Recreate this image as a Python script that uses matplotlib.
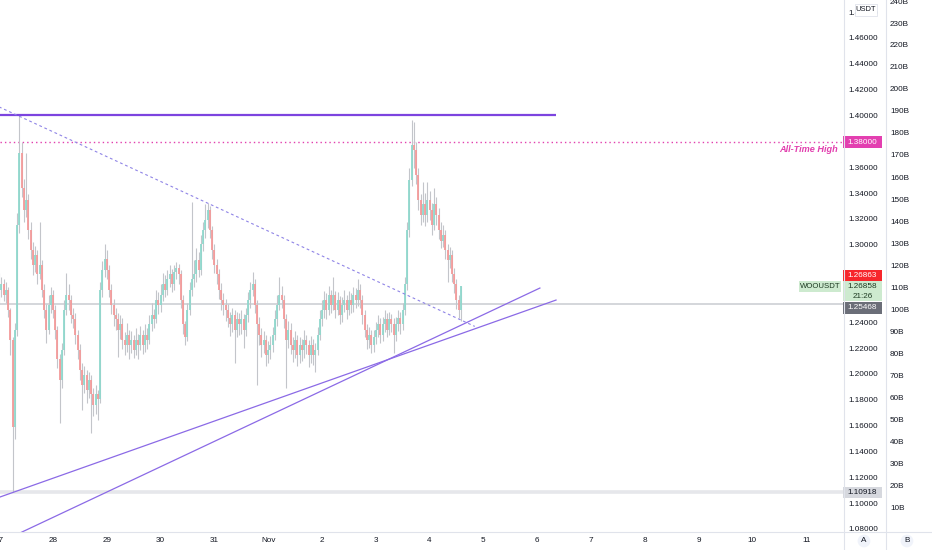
import numpy as np
import matplotlib
matplotlib.use("Agg")
import matplotlib.pyplot as plt
from matplotlib.transforms import blended_transform_factory as blend
from matplotlib.patches import Rectangle
from matplotlib.lines import Line2D

# WOOUSDT, 1h candles starting Oct 27 00:00 (day 0)
OPEN0 = 1.262
CLOSE = [
    # Oct 27
    1.266, 1.270, 1.262, 1.266, 1.250, 1.227, 1.160, 1.235, 1.316, 1.372, 1.345, 1.328,
    1.335, 1.312, 1.297, 1.285, 1.293, 1.278, 1.285, 1.266, 1.250, 1.235, 1.254, 1.262,
    # Oct 28
    1.250, 1.235, 1.212, 1.196, 1.219, 1.250, 1.262, 1.258, 1.246, 1.243, 1.231, 1.219,
    1.204, 1.192, 1.200, 1.188, 1.196, 1.185, 1.177, 1.185, 1.181, 1.266, 1.281, 1.290,
    # Oct 29
    1.281, 1.266, 1.254, 1.246, 1.243, 1.235, 1.239, 1.227, 1.223, 1.231, 1.223, 1.227,
    1.219, 1.227, 1.223, 1.231, 1.223, 1.231, 1.227, 1.239, 1.246, 1.243, 1.258, 1.254,
    # Oct 30
    1.262, 1.270, 1.266, 1.274, 1.278, 1.270, 1.280, 1.283, 1.278, 1.258, 1.239, 1.229,
    1.250, 1.266, 1.274, 1.278, 1.289, 1.281, 1.301, 1.312, 1.320, 1.328, 1.312, 1.297,
    # Oct 31
    1.285, 1.278, 1.266, 1.258, 1.254, 1.250, 1.244, 1.239, 1.246, 1.235, 1.243, 1.239,
    1.243, 1.235, 1.246, 1.258, 1.266, 1.270, 1.254, 1.239, 1.231, 1.223, 1.227, 1.215,
    # Nov 1
    1.219, 1.223, 1.231, 1.243, 1.254, 1.262, 1.258, 1.243, 1.227, 1.235, 1.223, 1.219,
    1.227, 1.215, 1.223, 1.219, 1.227, 1.223, 1.215, 1.223, 1.215, 1.219, 1.231, 1.243,
    # Nov 2
    1.250, 1.258, 1.250, 1.262, 1.254, 1.262, 1.250, 1.258, 1.246, 1.254, 1.258, 1.250,
    1.258, 1.254, 1.262, 1.258, 1.266, 1.258, 1.246, 1.235, 1.227, 1.231, 1.223, 1.229,
    # Nov 3
    1.235, 1.239, 1.231, 1.239, 1.243, 1.235, 1.243, 1.239, 1.231, 1.239, 1.244, 1.239,
    1.250, 1.270, 1.312, 1.351, 1.378, 1.374, 1.355, 1.335, 1.324, 1.332, 1.324, 1.335,
    # Nov 4
    1.328, 1.316, 1.332, 1.324, 1.312, 1.304, 1.308, 1.297, 1.289, 1.293, 1.278, 1.270,
    1.258, 1.250, 1.26858,
]
HIGH = [
    1.279, 1.276, 1.274, 1.272, 1.268, 1.252, 1.229, 1.240, 1.325, 1.401, 1.380, 1.352,
    1.372, 1.340, 1.318, 1.303, 1.300, 1.297, 1.318, 1.289, 1.270, 1.255, 1.262, 1.268,
    1.266, 1.254, 1.238, 1.216, 1.225, 1.258, 1.279, 1.270, 1.262, 1.252, 1.248, 1.235,
    1.224, 1.209, 1.207, 1.204, 1.202, 1.200, 1.190, 1.192, 1.188, 1.272, 1.288, 1.301,
    1.297, 1.285, 1.270, 1.259, 1.252, 1.248, 1.246, 1.244, 1.233, 1.240, 1.235, 1.234,
    1.231, 1.236, 1.232, 1.238, 1.235, 1.239, 1.236, 1.246, 1.256, 1.251, 1.266, 1.264,
    1.270, 1.279, 1.277, 1.281, 1.285, 1.282, 1.285, 1.287, 1.286, 1.281, 1.262, 1.242,
    1.256, 1.272, 1.334, 1.289, 1.298, 1.295, 1.308, 1.318, 1.332, 1.333, 1.331, 1.315,
    1.301, 1.290, 1.282, 1.271, 1.263, 1.259, 1.255, 1.249, 1.252, 1.250, 1.249, 1.248,
    1.250, 1.247, 1.252, 1.264, 1.272, 1.280, 1.274, 1.258, 1.245, 1.236, 1.234, 1.231,
    1.226, 1.230, 1.237, 1.250, 1.262, 1.276, 1.269, 1.262, 1.247, 1.242, 1.240, 1.229,
    1.234, 1.231, 1.229, 1.228, 1.235, 1.231, 1.227, 1.230, 1.228, 1.225, 1.237, 1.250,
    1.258, 1.265, 1.263, 1.269, 1.266, 1.276, 1.265, 1.264, 1.261, 1.260, 1.266, 1.262,
    1.265, 1.263, 1.268, 1.267, 1.274, 1.270, 1.262, 1.250, 1.239, 1.237, 1.235, 1.235,
    1.241, 1.246, 1.244, 1.245, 1.250, 1.248, 1.249, 1.247, 1.244, 1.245, 1.250, 1.249,
    1.256, 1.276, 1.318, 1.360, 1.397, 1.396, 1.380, 1.360, 1.340, 1.349, 1.341, 1.349,
    1.342, 1.333, 1.345, 1.338, 1.329, 1.318, 1.316, 1.312, 1.301, 1.299, 1.297, 1.283,
    1.274, 1.262, 1.26863,
]
LOW = [
    1.255, 1.260, 1.257, 1.256, 1.245, 1.215, 1.109, 1.150, 1.230, 1.310, 1.338, 1.318,
    1.322, 1.305, 1.290, 1.277, 1.280, 1.270, 1.274, 1.260, 1.244, 1.225, 1.232, 1.248,
    1.244, 1.228, 1.205, 1.163, 1.190, 1.215, 1.246, 1.250, 1.240, 1.236, 1.224, 1.212,
    1.196, 1.173, 1.186, 1.178, 1.182, 1.155, 1.168, 1.170, 1.165, 1.178, 1.260, 1.276,
    1.274, 1.260, 1.247, 1.238, 1.235, 1.214, 1.228, 1.220, 1.215, 1.218, 1.212, 1.217,
    1.213, 1.215, 1.212, 1.219, 1.216, 1.218, 1.220, 1.224, 1.234, 1.236, 1.240, 1.247,
    1.249, 1.257, 1.260, 1.262, 1.268, 1.264, 1.266, 1.274, 1.270, 1.252, 1.232, 1.223,
    1.226, 1.246, 1.261, 1.268, 1.272, 1.276, 1.277, 1.296, 1.306, 1.314, 1.306, 1.290,
    1.279, 1.270, 1.259, 1.250, 1.246, 1.242, 1.237, 1.230, 1.233, 1.209, 1.229, 1.231,
    1.232, 1.221, 1.230, 1.241, 1.252, 1.261, 1.248, 1.192, 1.223, 1.214, 1.217, 1.207,
    1.209, 1.212, 1.218, 1.227, 1.238, 1.250, 1.252, 1.236, 1.190, 1.221, 1.216, 1.210,
    1.213, 1.207, 1.209, 1.211, 1.213, 1.216, 1.206, 1.209, 1.208, 1.202, 1.215, 1.227,
    1.238, 1.244, 1.243, 1.246, 1.248, 1.250, 1.244, 1.246, 1.239, 1.241, 1.249, 1.243,
    1.246, 1.248, 1.249, 1.252, 1.253, 1.252, 1.239, 1.229, 1.220, 1.221, 1.217, 1.218,
    1.224, 1.229, 1.225, 1.226, 1.233, 1.229, 1.231, 1.233, 1.217, 1.226, 1.234, 1.232,
    1.235, 1.246, 1.266, 1.307, 1.346, 1.360, 1.348, 1.328, 1.316, 1.318, 1.315, 1.318,
    1.320, 1.308, 1.312, 1.316, 1.305, 1.298, 1.299, 1.290, 1.272, 1.283, 1.272, 1.263,
    1.251, 1.244, 1.242,
]

DAY_LABELS = ["27", "28", "29", "30", "31", "Nov", "2", "3", "4", "5", "6", "7", "8", "9", "10", "11"]
PRICE_TICKS = [1.08, 1.10, 1.12, 1.14, 1.16, 1.18, 1.20, 1.22, 1.24, 1.30, 1.32, 1.34,
               1.36, 1.40, 1.42, 1.44, 1.46, 1.48]
VOL_TICKS = list(range(10, 250, 10))

# drawings (day, price)
RESIST_D, RESIST_P = [-0.3, 10.35], [1.4012, 1.4012]
ATH = 1.38
DOWN_D, DOWN_P = [-0.1, 8.84], [1.4093, 1.2375]
UP1_D, UP1_P = [-0.4, 10.35], [1.0993, 1.2579]
UP2_D, UP2_P = [0.3, 10.05], [1.0759, 1.2672]
LAST_CLOSE = 1.25468
LOW_LEVEL = 1.10918

# pixel helpers for layout
W, H = 932, 550
def y2p(py):
    return 1.46 - (py - 39) / 1291.7

close = np.array(CLOSE)
opens = np.concatenate([[OPEN0], close[:-1]])
high = np.maximum(np.array(HIGH), np.maximum(opens, close))
low = np.minimum(np.array(LOW), np.minimum(opens, close))
t = np.arange(len(close)) / 24.0

plt.rcParams["font.family"] = ["Liberation Sans", "DejaVu Sans"]
FS = 5.9
fig = plt.figure(figsize=(W / 100, H / 100), dpi=100)
fig.patch.set_facecolor("white")

ax = fig.add_axes([0, 18 / H, 843 / W, 532 / H])
ax.set_xlim(0.8 / 53.8, 843.8 / 53.8)
ax.set_ylim(y2p(532), y2p(0))
ax.axis("off")

# levels
ax.axhline(LOW_LEVEL, color="#e6e7eb", lw=2.6, zorder=1)
ax.axhline(LAST_CLOSE, color="#c9cbd1", lw=1.1, zorder=1)
ax.axhline(ATH, color="#e23fae", lw=1.0, ls=(0, (1, 2.2)), zorder=1)

# candles
up = close >= opens
ax.vlines(t, low, high, color="#c3c5ca", lw=0.8, zorder=2)
ax.vlines(t[up], opens[up], close[up], color="#8fd8cd", lw=1.3, zorder=3)
ax.vlines(t[~up], close[~up], opens[~up], color="#f49a9a", lw=1.3, zorder=3)

# trend lines
ax.plot(RESIST_D, RESIST_P, color="#7c44df", lw=1.6, zorder=4, solid_capstyle="butt")
ax.plot(DOWN_D, DOWN_P, color="#8f84e6", lw=0.8, ls=(0, (2.5, 2.5)), zorder=4)
ax.plot(UP1_D, UP1_P, color="#8b6ae6", lw=0.9, zorder=4)
ax.plot(UP2_D, UP2_P, color="#8b6ae6", lw=0.9, zorder=4)

tb = blend(ax.transAxes, ax.transData)
ax.text(838 / 843, y2p(149), "All-Time High", transform=tb,
        ha="right", va="center", fontsize=6.6, color="#e23fae", fontstyle="italic",
        fontweight="bold")

# WOOUSDT tag
ax.add_patch(Rectangle((799 / 843, y2p(292)), 42 / 843, y2p(281) - y2p(292),
                       transform=tb, facecolor="#cdeacf", edgecolor="none", zorder=5,
                       clip_on=False))
ax.text(820 / 843, y2p(286.5), "WOOUSDT", transform=tb, ha="center", va="center",
        fontsize=5.6, color="#1e3a22", zorder=6)

# price axis
pax = fig.add_axes([843 / W, 18 / H, 42 / W, 532 / H])
pax.set_xlim(0, 42)
pax.set_ylim(y2p(532), y2p(0))
pax.axis("off")
for p in PRICE_TICKS:
    pax.text(20, p, f"{p:.5f}", ha="center", va="center", fontsize=FS,
             color="#131722", clip_on=True)

def price_box(top, bottom, fc, lines, tc):
    pax.add_patch(Rectangle((0, y2p(bottom)), 39, y2p(top) - y2p(bottom),
                            facecolor=fc, edgecolor="none", zorder=5))
    n = len(lines)
    for k, s in enumerate(lines):
        yy = top + (bottom - top) * (k + 0.5) / n
        pax.text(19.5, y2p(yy), s, ha="center", va="center", fontsize=FS,
                 color=tc, zorder=6)

price_box(136.5, 148, "#e33fb0", ["1.38000"], "white")
price_box(269.5, 281, "#f7262c", ["1.26863"], "white")
price_box(281, 301.5, "#cdeacf", ["1.26858", "21:26"], "#1e3a22")
price_box(302, 313.5, "#6b6e78", ["1.25468"], "white")
price_box(487.5, 498.5, "#d6d8de", ["1.10918"], "#131722")

# USDT selector covering the middle of the 1.48000 label
pax.add_patch(Rectangle((12, y2p(15.5)), 21.5, y2p(4.5) - y2p(15.5), facecolor="white",
                        edgecolor="#e0e3eb", lw=0.6, zorder=7))
pax.text(22.7, y2p(10), "USDT", ha="center", va="center", fontsize=5.4, color="#131722",
         zorder=8)

# volume scale
vax = fig.add_axes([885 / W, 18 / H, 47 / W, 532 / H])
vax.set_xlim(0, 47)
vax.set_ylim(100 - 222 / 2.2, 100 + 310 / 2.2)
vax.axis("off")
for v in VOL_TICKS:
    vax.text(5, v, f"{v}B", ha="left", va="center", fontsize=FS, color="#131722",
             clip_on=True)

# time axis strip (hides the bottom of the 1.08000 label)
fig.add_artist(Rectangle((0, 0), 1, 18 / H, transform=fig.transFigure, facecolor="white",
                         edgecolor="none", zorder=9))
for xp in (843.5, 885.5):
    fig.add_artist(Line2D([xp / W, xp / W], [0, 1], color="#e0e3eb", lw=0.8, zorder=10))
fig.add_artist(Line2D([0, 1], [1 - 532 / H, 1 - 532 / H], color="#e0e3eb", lw=0.8,
                      zorder=10))

dt = blend(ax.transData, fig.transFigure)
for d, lab in enumerate(DAY_LABELS):
    fig.text(d, 1 - 541 / H, lab, transform=dt, ha="center", va="center", fontsize=FS,
             color="#131722", zorder=11)
for xp, s in [(864, "A"), (907, "B")]:
    fig.text(xp / W, 1 - 541 / H, s, ha="center", va="center", fontsize=FS,
             color="#131722", zorder=11,
             bbox=dict(boxstyle="circle,pad=0.35", fc="#f0f3fa", ec="none"))

fig.savefig("out.png", dpi=100, facecolor="white")
